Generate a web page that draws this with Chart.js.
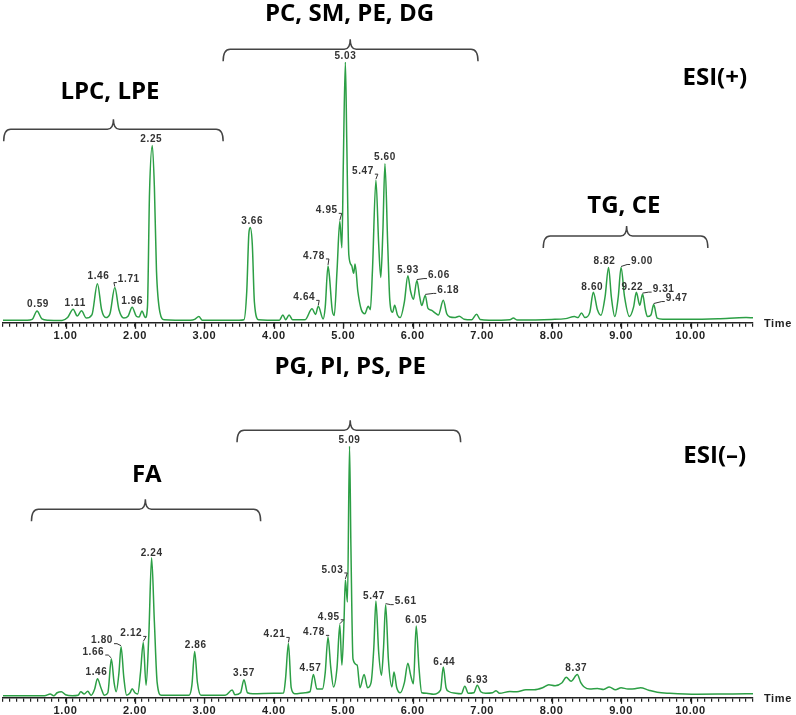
<!DOCTYPE html>
<html>
<head>
<meta charset="utf-8">
<script src="https://cdn.jsdelivr.net/npm/chart.js@4.4.0/dist/chart.umd.min.js"></script>
<style>
html, body { margin: 0; padding: 0; background: #fff; overflow: hidden; width: 796px; height: 715px; }
canvas { position: absolute; left: 0; }
#esiPos { top: 0; }
#esiNeg { top: 357px; }
</style>
</head>
<body>
<canvas id="esiPos" width="796" height="357"></canvas>
<canvas id="esiNeg" width="796" height="380"></canvas>
<script>
// ESI(+) trace, time (min) and relative intensity
const posTime = [0.1, 0.45, 0.52, 0.59, 0.66, 0.75, 0.95, 1.03, 1.11, 1.17, 1.23, 1.30, 1.38, 1.46, 1.52, 1.58, 1.64, 1.71, 1.77, 1.84,
  1.90, 1.96, 2.02, 2.06, 2.10, 2.15, 2.18, 2.21, 2.25, 2.28, 2.31, 2.36, 2.42, 2.80, 2.86, 2.92, 2.97, 3.50, 3.57, 3.61,
  3.64, 3.66, 3.69, 3.72, 3.78, 4.08, 4.13, 4.17, 4.22, 4.27, 4.45, 4.55, 4.60, 4.64, 4.71, 4.74, 4.78, 4.80, 4.84, 4.87,
  4.91, 4.95, 4.98, 5.00, 5.03, 5.05, 5.08, 5.12, 5.15, 5.17, 5.21, 5.26, 5.31, 5.36, 5.39, 5.42, 5.47, 5.51, 5.54, 5.57,
  5.60, 5.64, 5.67, 5.71, 5.74, 5.78, 5.82, 5.88, 5.93, 5.97, 6.01, 6.06, 6.10, 6.13, 6.18, 6.22, 6.27, 6.33, 6.37, 6.44,
  6.49, 6.54, 6.60, 6.67, 6.74, 6.85, 6.92, 6.97, 7.10, 7.40, 7.45, 7.50, 8.00, 8.20, 8.33, 8.38, 8.43, 8.48, 8.55, 8.60,
  8.66, 8.71, 8.77, 8.82, 8.86, 8.91, 8.96, 9.00, 9.05, 9.12, 9.18, 9.22, 9.27, 9.31, 9.35, 9.38, 9.43, 9.47, 9.52, 9.60,
  10.00, 10.40, 10.80, 10.90];
const posIntensity = [1.0, 1.0, 1.3, 4.5, 1.5, 1.0, 0.9, 2.0, 5.2, 2.6, 4.6, 1.8, 3.0, 15.0, 5.0, 2.0, 3.5, 13.5, 5.0, 1.8,
  2.5, 6.0, 2.5, 2.2, 4.5, 2.0, 6.0, 50, 68, 52, 20, 4, 1.2, 1.0, 1.3, 2.4, 1.0, 1.0, 1.2, 12,
  34, 36.5, 30, 8, 1.2, 1.0, 3.0, 1.2, 3.0, 1.2, 1.2, 5.4, 3.2, 6.3, 1.5, 6, 21.8, 18, 5, 2.8,
  20, 38.9, 28.8, 60, 100, 70, 26, 22, 19, 22.5, 12, 5, 3.5, 6.3, 5, 20, 54.7, 30, 17.4, 35,
  61, 30, 8.7, 4, 6.7, 3, 2, 8, 18, 12, 9, 16.2, 10, 6.6, 10.5, 5.5, 4.8, 3.6, 3.0, 8.6,
  3.5, 2.2, 2.0, 2.5, 1.4, 1.2, 3.3, 1.3, 1.0, 1.2, 1.8, 1.1, 1.3, 1.6, 2.4, 2.0, 3.8, 2.0, 4, 11.7,
  5, 2.9, 10, 21.2, 10, 2.4, 10, 21.2, 10, 2.4, 6, 11.7, 6.7, 11, 5, 2.4, 3, 7, 1.8, 1.4,
  1.4, 1.6, 2.0, 1.9];
const posPeaks = [0.59, 1.11, 1.46, 1.71, 1.96, 2.25, 3.66, 4.64, 4.78, 4.95, 5.03, 5.47, 5.60, 5.93, 6.06, 6.18,
  8.60, 8.82, 9.00, 9.22, 9.31, 9.47];

// ESI(-) trace
const negTime = [0.1, 0.70, 0.78, 0.83, 0.88, 0.94, 1.00, 1.10, 1.18, 1.22, 1.27, 1.32, 1.37, 1.42, 1.46, 1.51, 1.56, 1.61, 1.66, 1.70,
  1.73, 1.77, 1.80, 1.84, 1.88, 1.93, 1.96, 2.00, 2.04, 2.08, 2.12, 2.16, 2.20, 2.24, 2.28, 2.32, 2.38, 2.78, 2.82, 2.86,
  2.90, 2.95, 3.30, 3.40, 3.44, 3.52, 3.57, 3.62, 3.70, 4.00, 4.14, 4.17, 4.21, 4.25, 4.30, 4.45, 4.52, 4.57, 4.62, 4.70,
  4.74, 4.78, 4.82, 4.86, 4.91, 4.95, 4.98, 5.01, 5.03, 5.06, 5.09, 5.11, 5.14, 5.20, 5.24, 5.30, 5.35, 5.40, 5.44, 5.47,
  5.51, 5.55, 5.58, 5.61, 5.65, 5.70, 5.73, 5.77, 5.82, 5.88, 5.93, 5.97, 6.01, 6.05, 6.09, 6.13, 6.20, 6.30, 6.40, 6.44,
  6.48, 6.52, 6.62, 6.70, 6.75, 6.80, 6.88, 6.93, 6.98, 7.05, 7.15, 7.20, 7.25, 7.40, 7.50, 7.63, 7.75, 7.87, 7.96, 8.05,
  8.15, 8.21, 8.28, 8.37, 8.42, 8.47, 8.55, 8.66, 8.75, 8.83, 8.92, 9.00, 9.10, 9.20, 9.28, 9.40, 9.52, 9.70, 10.10, 10.50,
  10.80, 10.90];
const negIntensity = [0.8, 0.8, 1.5, 0.8, 2.0, 2.4, 1.2, 0.8, 1.0, 2.4, 1.5, 2.6, 1.0, 3.5, 7.6, 4.0, 1.0, 2.0, 15.4, 6,
  2.4, 10, 20.3, 8, 1.0, 2.0, 3.6, 2.0, 1.5, 10, 22, 5, 25, 55.6, 30, 6, 1.0, 1.0, 5, 18.4,
  6, 1.0, 1.0, 3.1, 1.2, 2.0, 7.2, 2.0, 1.6, 1.8, 1.9, 8, 21.6, 4, 1.6, 2.0, 2.4, 9.3, 3.5, 3.5,
  10, 24, 12, 4.3, 12, 29, 13, 30, 46.8, 38, 100, 60, 15.4, 13, 4, 9.3, 4, 6, 20, 38.4,
  18, 9, 20, 37, 15, 4.3, 10.2, 4, 2, 6, 13.7, 9, 5.6, 28.5, 12, 2, 1.8, 1.4, 3, 12.2,
  4, 2.5, 1.8, 1.6, 4.6, 1.8, 2, 5, 2.4, 1.8, 2.0, 2.8, 1.8, 2.5, 2.4, 3.2, 3.2, 4.0, 5.2, 4.8,
  6, 8.2, 6.6, 9.3, 6, 4.3, 3.5, 3.7, 3.3, 4.3, 3.2, 4, 3.5, 3.6, 4, 3.0, 2.2, 1.8, 1.4, 1.5,
  1.6, 1.6];
const negPeaks = [1.46, 1.66, 1.80, 2.12, 2.24, 2.86, 3.57, 4.21, 4.57, 4.78, 4.95, 5.03, 5.09, 5.47, 5.61, 6.05,
  6.44, 6.93, 8.37];

const timeTicks = [1, 2, 3, 4, 5, 6, 7, 8, 9, 10];

// label placement around apex: [dx, dy, leader line]
const posLabelPlace = {
  '0.59': [1, -7], '1.11': [2, -6], '1.46': [1, -7], '1.71': [14, -8, true], '1.96': [0, -6],
  '2.25': [-1, -6], '3.66': [2, -6], '4.64': [-14, -9, true], '4.78': [-14, -10, true],
  '4.95': [-13, -11, true], '5.03': [0, -6], '5.47': [-13, -9, true], '5.60': [0, -6],
  '5.93': [0, -6], '6.06': [22, -5, true], '6.18': [23, -5, true], '8.60': [-1, -5],
  '8.82': [-4, -6], '9.00': [21, -6, true], '9.22': [-4, -5], '9.31': [21, -5, true], '9.47': [23, -6, true]
};
const negLabelPlace = {
  '1.46': [-1, -6], '1.66': [-18, -7, true], '1.80': [-19, -6, true], '2.12': [-12, -9, true],
  '2.24': [0, -5], '2.86': [1, -6], '3.57': [0, -6], '4.21': [-14, -9, true], '4.57': [-3, -6],
  '4.78': [-14, -5, true], '4.95': [-11, -8, true], '5.03': [-13, -10, true], '5.09': [0, -6],
  '5.47': [-2, -5], '5.61': [20, -3, true], '6.05': [0, -6], '6.44': [1, -5], '6.93': [0, -5], '8.37': [-1, -6]
};

const traceColor = '#2c9f45';

function drawBracket(ctx, x1, x2, xm, y, drop, rise) {
  ctx.beginPath();
  ctx.moveTo(x1, y + drop);
  ctx.quadraticCurveTo(x1, y, x1 + 7, y);
  ctx.lineTo(xm - 6, y);
  ctx.quadraticCurveTo(xm, y, xm, y - rise);
  ctx.quadraticCurveTo(xm, y, xm + 6, y);
  ctx.lineTo(x2 - 7, y);
  ctx.quadraticCurveTo(x2, y, x2, y + drop);
  ctx.stroke();
}

function annotPlugin(times, vals, peaks, place, groups, brackets, modeText) {
  return {
    id: 'annot',
    beforeDraw(chart) { chart.ctx.letterSpacing = '0.6px'; },
    afterDraw(chart) {
      const ctx = chart.ctx, xs = chart.scales.x, ys = chart.scales.y;
      ctx.save();
      // longer ticks at whole minutes
      ctx.strokeStyle = '#222'; ctx.lineWidth = 1.3;
      const axisY = chart.chartArea.bottom;
      timeTicks.forEach(t => {
        const px = Math.round(xs.getPixelForValue(t)) + 0.5;
        ctx.beginPath(); ctx.moveTo(px, axisY); ctx.lineTo(px, axisY + 6); ctx.stroke();
      });
      ctx.font = 'bold 11px Arial'; ctx.fillStyle = '#222';
      ctx.textAlign = 'left'; ctx.textBaseline = 'middle';
      ctx.fillText('Time', chart.chartArea.right + 11, axisY + 1);

      // peak labels
      ctx.font = 'bold 10px Arial'; ctx.fillStyle = '#333'; ctx.strokeStyle = '#333'; ctx.lineWidth = 1;
      ctx.textAlign = 'center';
      peaks.forEach(p => {
        const i = times.indexOf(p);
        const key = p.toFixed(2);
        const px = xs.getPixelForValue(p), py = ys.getPixelForValue(vals[i]);
        const pl = place[key] || [0, -6];
        const lx = px + pl[0], ly = py + pl[1];
        ctx.fillText(key, lx, ly);
        if (pl[2]) {
          const w = ctx.measureText(key).width;
          const sx = pl[0] < 0 ? lx + w / 2 + 1 : lx - w / 2 - 1;
          const hx = pl[0] < 0 ? sx + 3 : sx - 3;
          ctx.beginPath(); ctx.moveTo(sx, ly + 3); ctx.lineTo(hx, ly + 3); ctx.lineTo(px, py - 1); ctx.stroke();
        }
      });

      // class brackets and captions
      ctx.letterSpacing = '0px';
      ctx.strokeStyle = '#444'; ctx.lineWidth = 1.5;
      brackets.forEach(b => {
        drawBracket(ctx, xs.getPixelForValue(b[0]), xs.getPixelForValue(b[1]), xs.getPixelForValue(b[2]),
          ys.getPixelForValue(b[3]), 12, 10);
      });
      ctx.font = 'bold 24px "Open Sans", Lato, sans-serif'; ctx.fillStyle = '#000';
      ctx.textAlign = 'center'; ctx.textBaseline = 'middle';
      groups.forEach(g => ctx.fillText(g[0], xs.getPixelForValue(g[1]), ys.getPixelForValue(g[2])));
      ctx.fillText(modeText[0], xs.getPixelForValue(modeText[1]), ys.getPixelForValue(modeText[2]));
      ctx.restore();
    }
  };
}

function makeChart(id, times, vals, peaks, place, pad, groups, brackets, modeText) {
  const pts = times.map((t, i) => ({ x: t, y: vals[i] }));
  return new Chart(document.getElementById(id).getContext('2d'), {
    type: 'line',
    data: { datasets: [{ data: pts, borderColor: traceColor, borderWidth: 1.5, pointRadius: 0,
      cubicInterpolationMode: 'monotone', fill: false }] },
    options: {
      responsive: false, animation: false, devicePixelRatio: 1,
      layout: { padding: pad },
      plugins: { legend: { display: false }, tooltip: { enabled: false } },
      scales: {
        x: {
          type: 'linear', min: 0.1, max: 10.9, bounds: 'data',
          grid: { drawOnChartArea: false, drawTicks: true, tickLength: 4, color: '#222', lineWidth: 1.2 },
          border: { display: true, color: '#222', width: 1.5 },
          ticks: {
            stepSize: 0.1, includeBounds: false, autoSkip: false, maxTicksLimit: 200, maxRotation: 0, minRotation: 0,
            padding: 3, color: '#222', font: { family: 'Arial', size: 11, weight: 'bold' },
            callback: v => (Math.abs(v - Math.round(v)) < 1e-6 && timeTicks.includes(Math.round(v))) ? Math.round(v).toFixed(2) : ''
          }
        },
        y: { display: false, min: 0, max: 100 }
      }
    },
    plugins: [annotPlugin(times, vals, peaks, place, groups, brackets, modeText)]
  });
}

makeChart('esiPos', posTime, posIntensity, posPeaks, posLabelPlace,
  { top: 62, left: 2, right: 43, bottom: 11 },
  [['PC, SM, PE, DG', 5.09, 118.2], ['LPC, LPE', 1.64, 88.3], ['TG, CE', 9.04, 44.7]],
  [[3.27, 6.94, 5.10, 104.9], [0.11, 3.27, 1.69, 74.2], [7.88, 10.25, 9.08, 33.3]],
  ['ESI(+)', 10.35, 93.9]);

makeChart('esiNeg', negTime, negIntensity, negPeaks, negLabelPlace,
  { top: 89, left: 2, right: 43, bottom: 16 },
  [['PG, PI, PS, PE', 5.10, 131.4], ['FA', 2.17, 88.6]],
  [[3.47, 6.69, 5.10, 106.3], [0.51, 3.81, 2.15, 74.9]],
  ['ESI(\u2013)', 10.35, 96.1]);
</script>
</body>
</html>
